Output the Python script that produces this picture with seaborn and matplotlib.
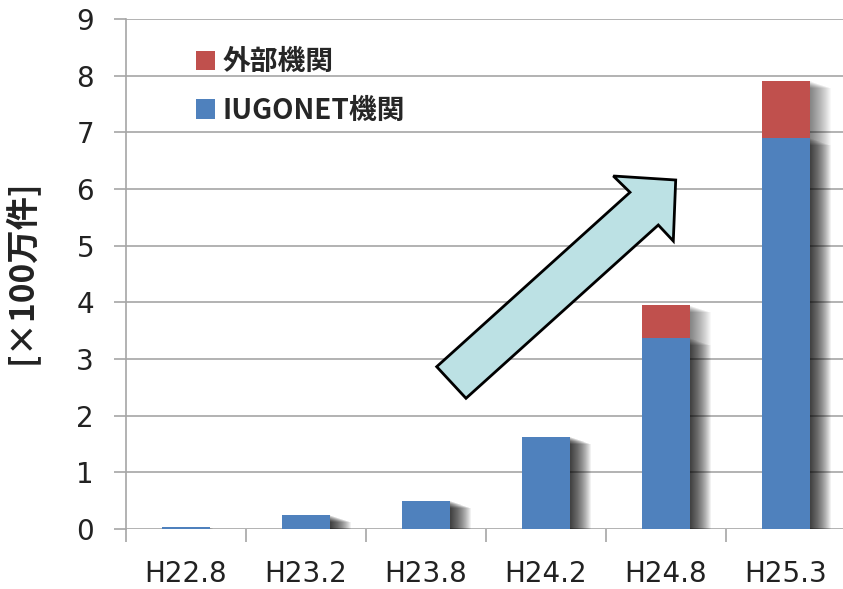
import matplotlib
matplotlib.use("Agg")
import matplotlib.pyplot as plt
import matplotlib.patheffects as pe
from matplotlib.patches import Polygon, Patch
import seaborn as sns
import pandas as pd

categories = ["H22.8", "H23.2", "H23.8", "H24.2", "H24.8", "H25.3"]
iugonet = [0.03, 0.25, 0.50, 1.63, 3.37, 6.90]
external = [0.0, 0.0, 0.0, 0.0, 0.58, 1.01]
y_ticks = [0, 1, 2, 3, 4, 5, 6, 7, 8, 9]
legend_labels = ["外部機関", "IUGONET機関"]
y_label = "[×100万件]"

BLUE = "#4F81BD"
RED = "#C0504D"
FONT = ["Noto Sans CJK JP", "DejaVu Sans"]
TICKFONT = ["DejaVu Sans", "Noto Sans CJK JP"]

sns.set_theme(style="white")
plt.rcParams["font.family"] = FONT

df = pd.DataFrame({"cat": categories, "iugonet": iugonet, "external": external})
df["total"] = df["iugonet"] + df["external"]

W, H = 843, 589
fig = plt.figure(figsize=(W / 100, H / 100), dpi=100)
fig.patch.set_facecolor("white")
ax = fig.add_axes([126 / W, 60 / H, 720 / W, 510 / H])
ax.set_facecolor("white")

sns.barplot(data=df, x="cat", y="total", color=RED, width=0.395, ax=ax,
            saturation=1, linewidth=0)
sns.barplot(data=df, x="cat", y="iugonet", color=BLUE, width=0.395, ax=ax,
            saturation=1, linewidth=0)

shadow = [pe.SimplePatchShadow(offset=(0.72 * k, -0.25 * k), shadow_rgbFace="black",
                               alpha=0.028) for k in range(1, 22)] + [pe.Normal()]
for p in ax.patches:
    p.set_path_effects(shadow)

ax.set_xlim(-0.5, 5.5)
ax.set_ylim(0, 9)
ax.set_yticks(y_ticks)
ax.yaxis.grid(True, color="#A6A6A6", linewidth=1.2)
ax.set_axisbelow(True)
for s in ["top", "right", "bottom"]:
    ax.spines[s].set_visible(False)
ax.spines["left"].set_color("#A6A6A6")
ax.spines["left"].set_linewidth(1.2)

ax.set_xlabel("")
ax.set_ylabel("")
ax.tick_params(axis="y", which="major", length=9, width=1.2, color="#A6A6A6",
               labelsize=20, pad=14, left=True, labelcolor="#222222")
ax.set_xticks(range(len(categories)))
ax.set_xticklabels(categories)
ax.set_xticks([i - 0.5 for i in range(len(categories) + 1)], minor=True)
ax.tick_params(axis="x", which="major", length=0, labelsize=20, pad=22, labelcolor="#222222")
ax.tick_params(axis="x", which="minor", length=9, width=1.2, color="#A6A6A6", bottom=True)
for t in ax.get_xticklabels() + ax.get_yticklabels():
    t.set_family(TICKFONT)

fig.text(21 / W, 1 - 272 / H, y_label, rotation=90, ha="center", va="center",
         fontsize=24, fontweight="bold", color="#222222", family=FONT)

handles = [Patch(facecolor=RED, edgecolor="none"), Patch(facecolor=BLUE, edgecolor="none")]
leg = fig.legend(handles, legend_labels, loc="upper left",
                 bbox_to_anchor=(196 / W, 1 - 48 / H), frameon=False,
                 prop={"family": FONT, "size": 20, "weight": "bold"},
                 handlelength=0.7, handleheight=0.7, handletextpad=0.25,
                 labelspacing=0.75, borderpad=0, borderaxespad=0)

arrow_px = [(436.7, 366.7), (630, 192.3), (613.3, 176), (675.7, 180),
            (673.3, 241), (658.3, 225), (466, 398.3)]
arrow = Polygon([(x / W, 1 - y / H) for x, y in arrow_px], closed=True,
                transform=fig.transFigure, facecolor="#BCE1E4", edgecolor="black",
                linewidth=2, zorder=5)
fig.add_artist(arrow)

fig.savefig("out.png", dpi=100)
